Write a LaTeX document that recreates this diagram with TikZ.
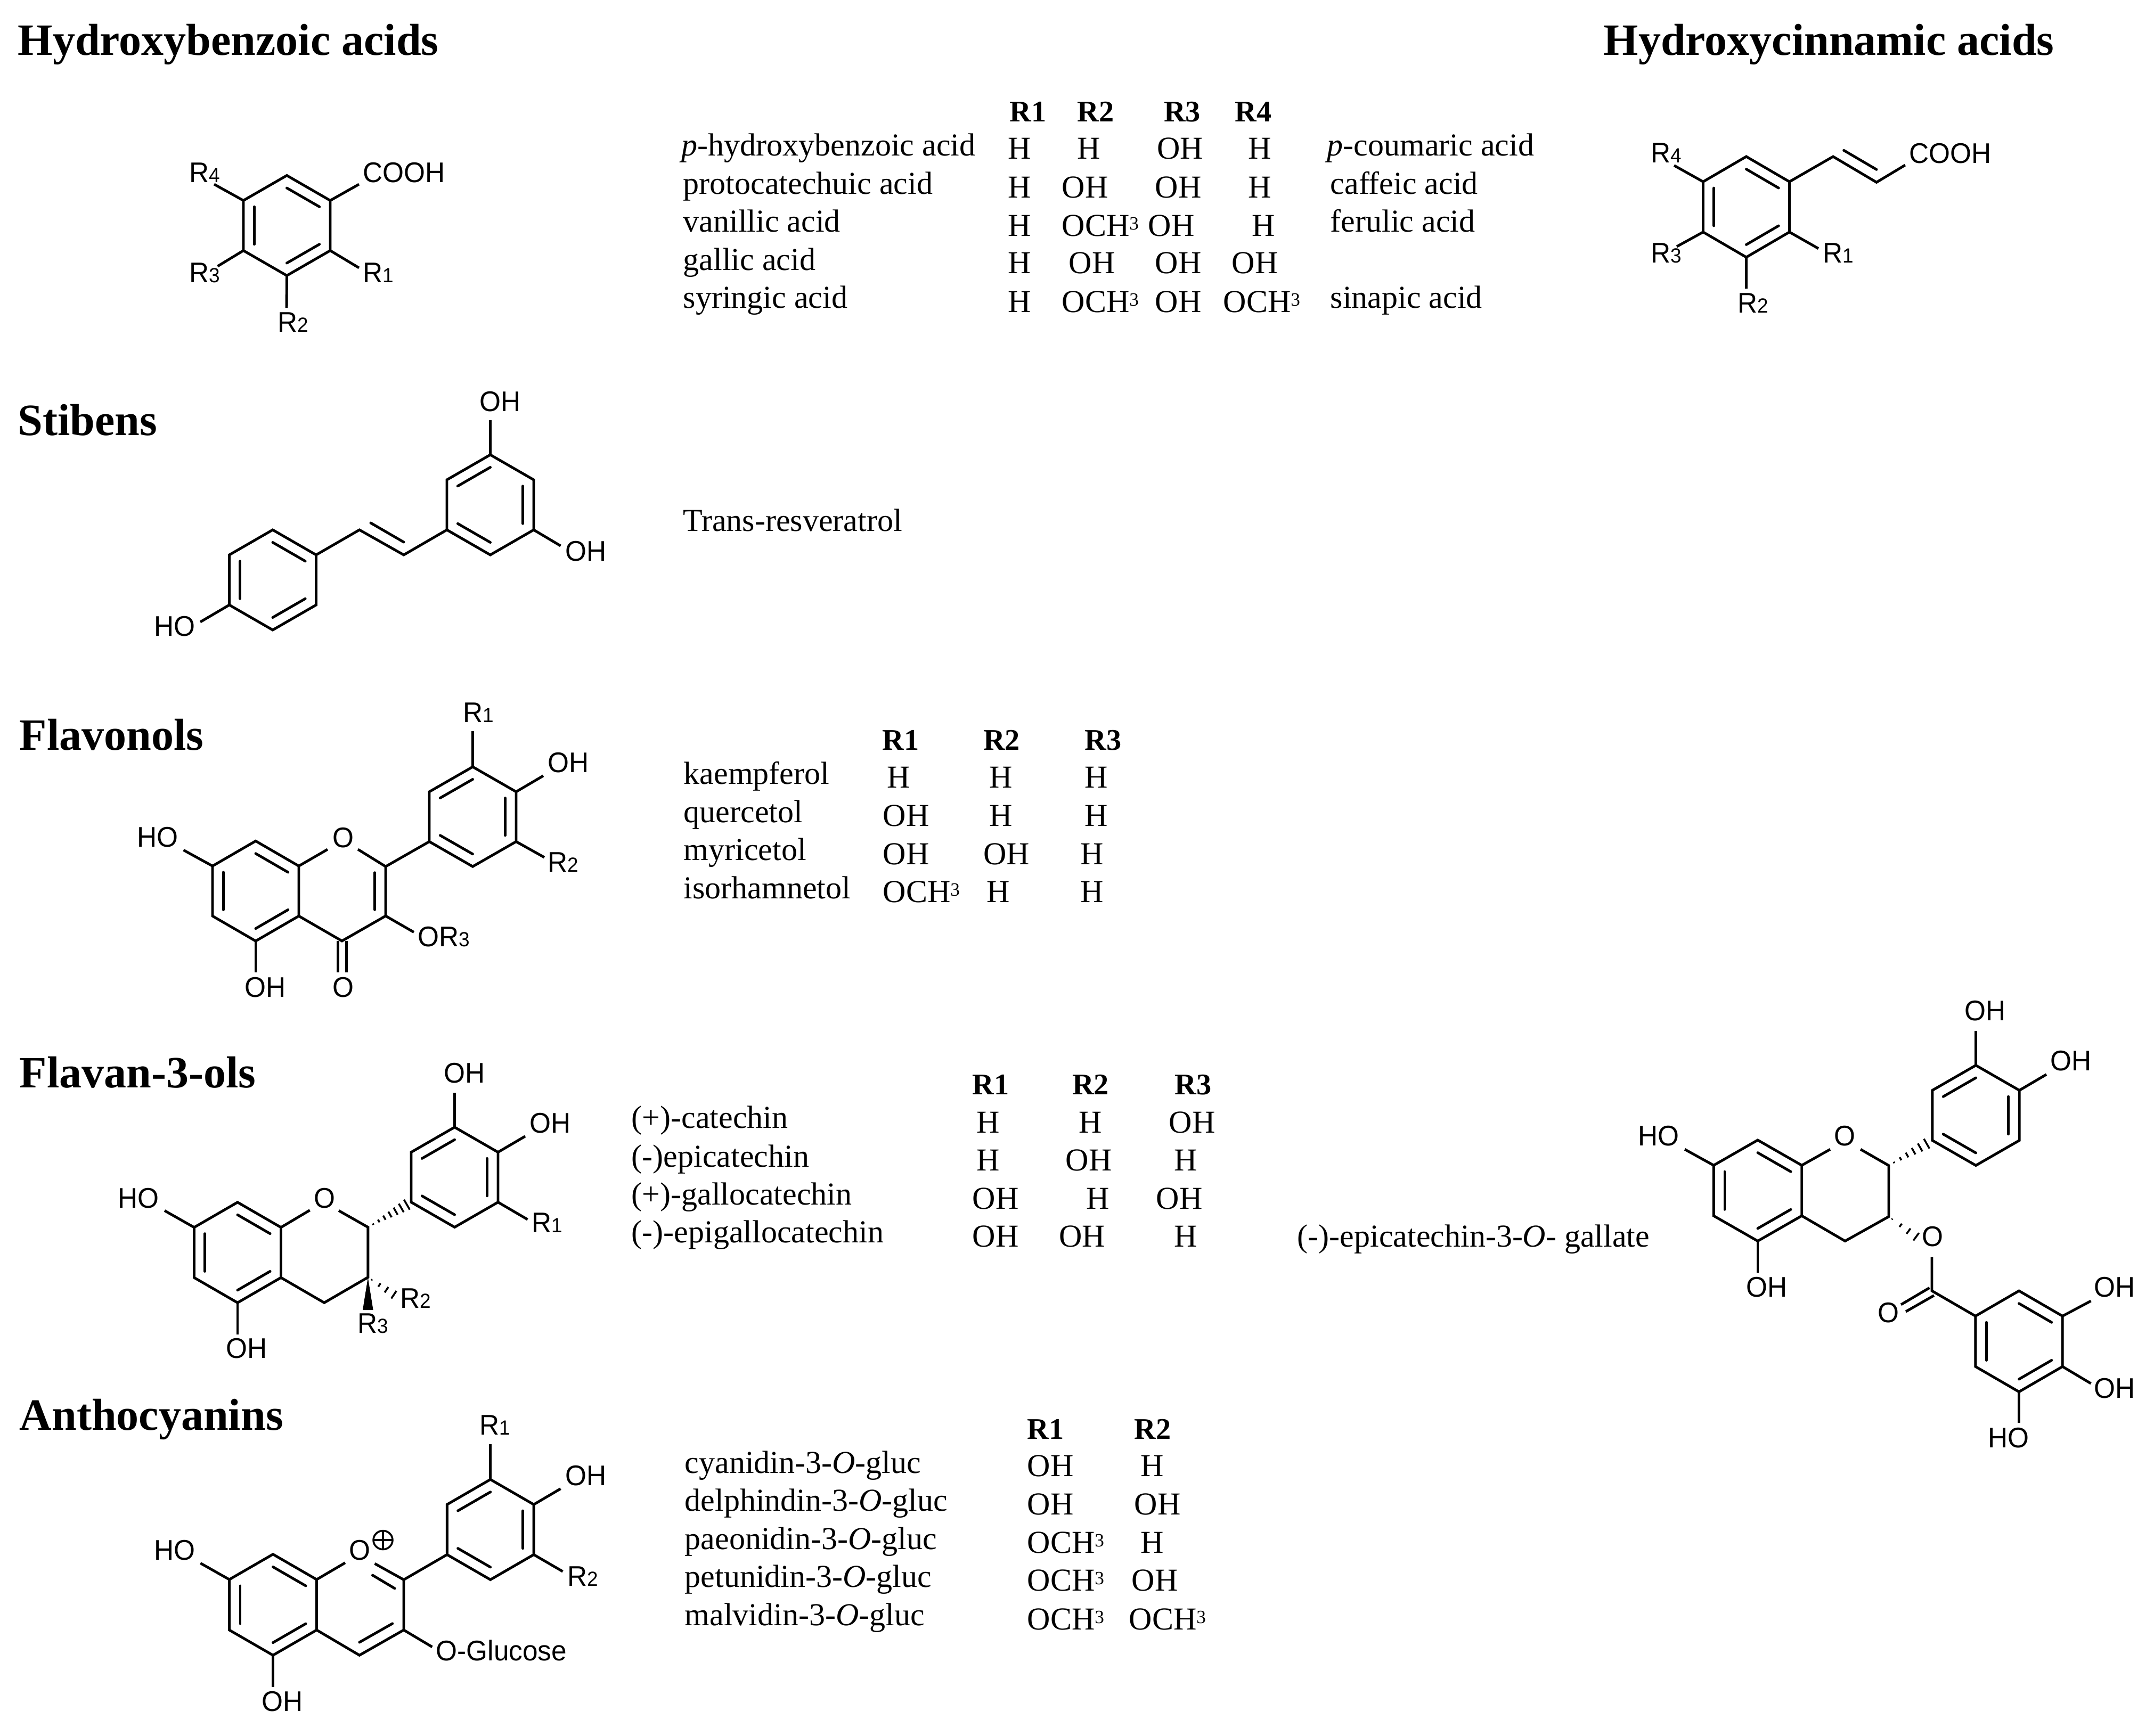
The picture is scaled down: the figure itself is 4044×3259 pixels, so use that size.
\documentclass[tikz,border=0pt]{standalone}
\usepackage{fontspec}
\setmainfont{Liberation Serif}
\setsansfont{Liberation Sans}
\usetikzlibrary{calc}
\newcommand{\rn}[1]{R{\fontsize{10.5}{12}\selectfont #1}}
\newcommand{\och}{OCH\raisebox{0.2em}{\fontsize{10}{10}\selectfont 3}}
\newcommand{\ringat}[5]{
\coordinate (#1m) at (#2,#3);
\coordinate (#1a) at (#2,#3-#5);
\coordinate (#1b) at (#2+#4,#3-#5/2);
\coordinate (#1c) at (#2+#4,#3+#5/2);
\coordinate (#1d) at (#2,#3+#5);
\coordinate (#1e) at (#2-#4,#3+#5/2);
\coordinate (#1f) at (#2-#4,#3-#5/2);
\draw [bond] (#1a) -- (#1b) -- (#1c) -- (#1d) -- (#1e) -- (#1f) -- cycle;
}
\newcommand{\dbl}[3]{\draw [inner] ($(#1)!0.25!(#3)$) -- ($(#2)!0.25!(#3)$);}
\newcommand{\hashbond}[4]{\foreach \t in {#3} {\draw [hash] ($(#1)!\t!(#2)!{\t*#4*0.01cm}!90:(#2)$) -- ($(#1)!\t!(#2)!{\t*#4*0.01cm}!-90:(#2)$);}}
\tikzset{
bond/.style={line width=1.4pt, line join=miter},
inner/.style={line width=1.4pt, line cap=round},
hash/.style={line width=1pt},
lbl/.style={font=\fontsize{14.6}{17}\selectfont\sffamily, inner sep=0pt, anchor=base west, yscale=1.04, transform shape},
txt/.style={font=\fontsize{17.07}{20}\selectfont, inner sep=0pt, anchor=base west},
hdr/.style={font=\fontsize{16}{20}\selectfont\bfseries, inner sep=0pt, anchor=base west},
head/.style={font=\fontsize{23.9}{28}\selectfont\bfseries, inner sep=0pt, anchor=base west}
}
\begin{document}
\begin{tikzpicture}[x=0.01cm,y=-0.01cm]
\useasboundingbox (0,0) rectangle (4044,3259);

\node [head] (hbtitle) at (33,103) {Hydroxybenzoic acids};
\node [head] (hctitle) at (3010,103) {Hydroxycinnamic acids};
\node [head] (sttitle) at (33,817) {Stibens};
\node [head] (fltitle) at (36,1408) {Flavonols};
\node [head] (fatitle) at (36,2042) {Flavan-3-ols};
\node [head] (antitle) at (36,2685) {Anthocyanins};

\ringat{hb}{538.5}{423.5}{81.5}{94}
\dbl{hba}{hbb}{hbm}
\dbl{hbc}{hbd}{hbm}
\dbl{hbe}{hbf}{hbm}
\draw [bond] (hbf) -- (402,346) coordinate (hbr4);
\draw [bond] (hbb) -- (674,346) coordinate (hbacid);
\draw [bond] (hbc) -- (674,503) coordinate (hbr1);
\draw [bond] (hbe) -- (408.5,500) coordinate (hbr3);
\draw [bond] (hbd) -- (538,578) coordinate (hbr2);
\node [lbl] (hbR4) at (355,342) {\rn{4}};
\node [lbl] (hbCOOH) at (681,342) {COOH};
\node [lbl] (hbR1) at (681,530) {\rn{1}};
\node [lbl] (hbR3) at (355,530) {\rn{3}};
\node [lbl] (hbR2) at (521,623) {\rn{2}};

\ringat{hc}{3278.5}{388.5}{81}{94.5}
\dbl{hca}{hcb}{hcm}
\dbl{hcc}{hcd}{hcm}
\dbl{hce}{hcf}{hcm}
\coordinate (hcv1) at (3441.5,294);
\coordinate (hcv2) at (3523,342.3);
\draw [bond] (hcb) -- (hcv1) -- (hcv2) -- (3576.8,310) coordinate (hcacid);
\draw [inner] (3461.6,282.3) coordinate (hcd1) -- (3523,318.3) coordinate (hcd2);
\draw [bond] (hcf) -- (3143,310.7) coordinate (hcr4);
\draw [bond] (hce) -- (3148,463) coordinate (hcr3);
\draw [bond] (hcc) -- (3414,466.7) coordinate (hcr1);
\draw [bond] (hcd) -- (3278.5,541.7) coordinate (hcr2);
\node [lbl] (hcCOOH) at (3583.5,306) {COOH};
\node [lbl] (hcR4) at (3099,305) {\rn{4}};
\node [lbl] (hcR3) at (3099,493) {\rn{3}};
\node [lbl] (hcR1) at (3421.4,493) {\rn{1}};
\node [lbl] (hcR2) at (3262,587.7) {\rn{2}};

\node [hdr] (hbh1) at (1895,228) {R1};
\node [hdr] (hbh2) at (2022,228) {R2};
\node [hdr] (hbh3) at (2184.5,228) {R3};
\node [hdr] (hbh4) at (2318,228) {R4};
\node [txt] (hbn1) at (1279,292) {\textit{p}-hydroxybenzoic acid};
\node [txt] (hbn2) at (1282,364) {protocatechuic acid};
\node [txt] (hbn3) at (1282,435) {vanillic acid};
\node [txt] (hbn4) at (1282,507) {gallic acid};
\node [txt] (hbn5) at (1282,578) {syringic acid};
\node [txt] (hb11) at (1892,298) {H};
\node [txt] (hb12) at (2022,298) {H};
\node [txt] (hb13) at (2171.5,298) {OH};
\node [txt] (hb14) at (2343,298) {H};
\node [txt] (hb21) at (1892,371) {H};
\node [txt] (hb22) at (1993,371) {OH};
\node [txt] (hb23) at (2168,371) {OH};
\node [txt] (hb24) at (2343,371) {H};
\node [txt] (hb31) at (1892,443) {H};
\node [txt] (hb32) at (1993,443) {\och};
\node [txt] (hb33) at (2155,443) {OH};
\node [txt] (hb34) at (2350,443) {H};
\node [txt] (hb41) at (1892,513) {H};
\node [txt] (hb42) at (2006,513) {OH};
\node [txt] (hb43) at (2168,513) {OH};
\node [txt] (hb44) at (2312,513) {OH};
\node [txt] (hb51) at (1892,586) {H};
\node [txt] (hb52) at (1993,586) {\och};
\node [txt] (hb53) at (2168,586) {OH};
\node [txt] (hb54) at (2296,586) {\och};
\node [txt] (hcn1) at (2491,292) {\textit{p}-coumaric acid};
\node [txt] (hcn2) at (2497,364) {caffeic acid};
\node [txt] (hcn3) at (2497,435) {ferulic acid};
\node [txt] (hcn5) at (2497,578) {sinapic acid};

\ringat{sta}{920.5}{948}{81.5}{94}
\ringat{stb}{512}{1089}{81.5}{94}
\dbl{staa}{staf}{stam}
\dbl{stab}{stac}{stam}
\dbl{stad}{stae}{stam}
\dbl{stba}{stbb}{stbm}
\dbl{stbe}{stbf}{stbm}
\dbl{stbc}{stbd}{stbm}
\coordinate (stv1) at (758,1042);
\coordinate (stv2) at (674.8,995);
\draw [bond] (stae) -- (stv1) -- (stv2) -- (stbb);
\draw [inner] (696,982) coordinate (std1) -- (758,1018) coordinate (std2);
\draw [bond] (staa) -- (920.5,789) coordinate (stoh1);
\draw [bond] (stac) -- (1052.5,1025) coordinate (stoh2);
\draw [bond] (stbe) -- (376,1168) coordinate (stoh3);
\node [lbl] (stOH1) at (900,772) {OH};
\node [lbl] (stOH2) at (1060.6,1053) {OH};
\node [lbl] (stHO) at (288.5,1194) {HO};
\node [txt] (stn) at (1282,997) {Trans-resveratrol};

\ringat{flb}{480}{1673.2}{81}{93.9}
\ringat{flr}{887.5}{1533.6}{81.5}{93.6}
\dbl{flba}{flbb}{flbm}
\dbl{flbe}{flbf}{flbm}
\dbl{flbc}{flbd}{flbm}
\dbl{flra}{flrf}{flrm}
\dbl{flrb}{flrc}{flrm}
\dbl{flrd}{flre}{flrm}
\coordinate (flc2) at (724,1627.2);
\coordinate (flc3) at (724,1720);
\coordinate (flc4) at (642,1767);
\coordinate (flpm) at (643,1673.2);
\draw [bond] (flbb) -- (615,1595) coordinate (flo1);
\draw [bond] (672,1595) coordinate (flo2) -- (flc2) -- (flc3) -- (flc4) -- (flbc);
\dbl{flc2}{flc3}{flpm}
\draw [bond] (flc2) -- (flre);
\draw [bond] (634.5,1767) coordinate (flk1) -- (634.5,1825.7) coordinate (flk2);
\draw [bond] (650.5,1767) coordinate (flk3) -- (650.5,1825.7) coordinate (flk4);
\draw [bond] (flbd) -- (480,1825.7) coordinate (floh1);
\draw [bond] (flbf) -- (344.5,1596.3) coordinate (floh2);
\draw [bond] (flc3) -- (777,1750.5) coordinate (flor);
\draw [bond] (flra) -- (887.5,1373) coordinate (flr1);
\draw [bond] (flrb) -- (1020,1456.8) coordinate (floh3);
\draw [bond] (flrc) -- (1022,1610) coordinate (flr2);
\node [lbl] (flO) at (623.6,1591.2) {O};
\node [lbl] (flO2) at (623.6,1872) {O};
\node [lbl] (flOH1) at (459,1872) {OH};
\node [lbl] (flHO) at (257,1590.4) {HO};
\node [lbl] (flOR) at (784,1777.4) {O\rn{3}};
\node [lbl] (flR1) at (869,1356.3) {\rn{1}};
\node [lbl] (flOH3) at (1028,1450) {OH};
\node [lbl] (flR2) at (1028,1637) {\rn{2}};

\node [hdr] (flh1) at (1656,1408) {R1};
\node [hdr] (flh2) at (1845.5,1408) {R2};
\node [hdr] (flh3) at (2036,1408) {R3};
\node [txt] (fln1) at (1283,1472) {kaempferol};
\node [txt] (fln2) at (1283,1544) {quercetol};
\node [txt] (fln3) at (1283,1615) {myricetol};
\node [txt] (fln4) at (1283,1687) {isorhamnetol};
\node [txt] (fl11) at (1664.7,1479) {H};
\node [txt] (fl12) at (1857,1479) {H};
\node [txt] (fl13) at (2036,1479) {H};
\node [txt] (fl21) at (1657,1551) {OH};
\node [txt] (fl22) at (1857,1551) {H};
\node [txt] (fl23) at (2036,1551) {H};
\node [txt] (fl31) at (1657,1623) {OH};
\node [txt] (fl32) at (1845.5,1623) {OH};
\node [txt] (fl33) at (2027.5,1623) {H};
\node [txt] (fl41) at (1657,1694) {\och};
\node [txt] (fl42) at (1852,1694) {H};
\node [txt] (fl43) at (2027.5,1694) {H};

\ringat{fab}{446}{2352}{81.5}{94.3}
\ringat{far}{853.5}{2210.6}{81.5}{93.9}
\dbl{faba}{fabb}{fabm}
\dbl{fabe}{fabf}{fabm}
\dbl{fabc}{fabd}{fabm}
\dbl{fara}{farf}{farm}
\dbl{farb}{farc}{farm}
\dbl{fard}{fare}{farm}
\coordinate (fac2) at (690.8,2304.5);
\coordinate (fac3) at (690.8,2398.6);
\coordinate (fac4) at (608.7,2446.3);
\draw [bond] (fabb) -- (581.7,2272.6) coordinate (fao1);
\draw [bond] (636,2273.4) coordinate (fao2) -- (fac2) -- (fac3) -- (fac4) -- (fabc);
\hashbond{fac2}{fare}{0.12,0.25,0.38,0.51,0.64,0.77,0.9}{12}
\coordinate (far2) at (742,2433);
\hashbond{fac3}{far2}{0.14,0.42,0.68,0.95}{9}
\coordinate (far3a) at (681,2460);
\coordinate (far3b) at (700.6,2460);
\fill (fac3) -- (far3a) -- (far3b) -- cycle;
\draw [bond] (fara) -- (853.5,2051.6) coordinate (faoh1);
\draw [bond] (farb) -- (986,2133.7) coordinate (faoh2);
\draw [bond] (farc) -- (990.5,2290) coordinate (far1);
\draw [bond] (fabf) -- (309,2273.4) coordinate (faoh3);
\draw [bond] (fabd) -- (446,2505.6) coordinate (faoh4);
\node [lbl] (faO) at (588.6,2268) {O};
\node [lbl] (faR3) at (670.7,2503.5) {\rn{3}};
\node [lbl] (faR2) at (751,2456.6) {\rn{2}};
\node [lbl] (faOH1) at (833,2033) {OH};
\node [lbl] (faOH2) at (994,2127) {OH};
\node [lbl] (faR1) at (998,2314.8) {\rn{1}};
\node [lbl] (faHO) at (221,2268) {HO};
\node [lbl] (faOH4) at (424,2550.3) {OH};

\node [hdr] (fah1) at (1825,2055) {R1};
\node [hdr] (fah2) at (2012.5,2055) {R2};
\node [hdr] (fah3) at (2205,2055) {R3};
\node [txt] (fan1) at (1185,2118) {(+)-catechin};
\node [txt] (fan2) at (1185,2191) {(-)epicatechin};
\node [txt] (fan3) at (1185,2262) {(+)-gallocatechin};
\node [txt] (fan4) at (1185,2333) {(-)-epigallocatechin};
\node [txt] (fa11) at (1832.5,2127) {H};
\node [txt] (fa12) at (2025,2127) {H};
\node [txt] (fa13) at (2194,2127) {OH};
\node [txt] (fa21) at (1832.5,2198) {H};
\node [txt] (fa22) at (2000,2198) {OH};
\node [txt] (fa23) at (2204,2198) {H};
\node [txt] (fa31) at (1825,2270) {OH};
\node [txt] (fa32) at (2039,2270) {H};
\node [txt] (fa33) at (2170,2270) {OH};
\node [txt] (fa41) at (1825,2341) {OH};
\node [txt] (fa42) at (1987.5,2341) {OH};
\node [txt] (fa43) at (2204,2341) {H};
\node [txt] (egn) at (2435,2341) {(-)-epicatechin-3-\textit{O}- gallate};

\ringat{egb}{3300}{2235.7}{82.7}{94.8}
\ringat{egr}{3709.5}{2094.5}{81.7}{94}
\ringat{egg}{3790.5}{2518.8}{81.7}{94.8}
\dbl{egba}{egbb}{egbm}
\dbl{egbe}{egbf}{egbm}
\dbl{egbc}{egbd}{egbm}
\dbl{egra}{egrf}{egrm}
\dbl{egrb}{egrc}{egrm}
\dbl{egrd}{egre}{egrm}
\dbl{egga}{eggb}{eggm}
\dbl{egge}{eggf}{eggm}
\dbl{eggc}{eggd}{eggm}
\coordinate (egc2) at (3546,2188.7);
\coordinate (egc3) at (3546,2284.6);
\coordinate (egc4) at (3464,2330.5);
\coordinate (egco) at (3627,2424);
\coordinate (ego3) at (3599,2323.6);
\draw [bond] (egbb) -- (3436,2158.3) coordinate (ego1);
\draw [bond] (3493,2158.3) coordinate (ego2) -- (egc2) -- (egc3) -- (egc4) -- (egbc);
\hashbond{egc2}{egre}{0.12,0.27,0.42,0.57,0.72,0.87}{12}
\hashbond{egc3}{ego3}{0.12,0.42,0.7,0.97}{9}
\draw [bond] (3627,2360.9) coordinate (ego4) -- (egco) -- (eggf);
\draw [bond] (3622.5,2418.3) coordinate (egk1) -- (3569,2449.9) coordinate (egk2);
\draw [bond] (3631,2432.7) coordinate (egk3) -- (3578,2463) coordinate (egk4);
\draw [bond] (egra) -- (3709.5,1936) coordinate (egoh1);
\draw [bond] (egrb) -- (3842,2017.6) coordinate (egoh2);
\draw [bond] (egbf) -- (3163,2158.3) coordinate (egoh3);
\draw [bond] (egbd) -- (3300,2389.6) coordinate (egoh4);
\draw [bond] (eggb) -- (3925.5,2443) coordinate (egoh5);
\draw [bond] (eggc) -- (3925.5,2598) coordinate (egoh6);
\draw [bond] (eggd) -- (3790.5,2672) coordinate (egoh7);
\node [lbl] (egO1) at (3443,2151.4) {O};
\node [lbl] (egO3) at (3608,2340.8) {O};
\node [lbl] (egO4) at (3525,2483.2) {O};
\node [lbl] (egOH1) at (3688,1916) {OH};
\node [lbl] (egOH2) at (3849,2010.7) {OH};
\node [lbl] (egHO1) at (3074.6,2151.4) {HO};
\node [lbl] (egOH4) at (3278,2435.5) {OH};
\node [lbl] (egOH5) at (3931,2435.5) {OH};
\node [lbl] (egOH6) at (3931,2625) {OH};
\node [lbl] (egHO7) at (3732,2718) {HO};

\ringat{anb}{512.5}{3013.5}{82}{94.8}
\ringat{anr}{920.7}{2872.3}{81.4}{94.1}
\dbl{anba}{anbb}{anbm}
\dbl{anbe}{anbf}{anbm}
\dbl{anbc}{anbd}{anbm}
\dbl{anra}{anrf}{anrm}
\dbl{anrb}{anrc}{anrm}
\dbl{anrd}{anre}{anrm}
\coordinate (anc2) at (758,2966.5);
\coordinate (anc3) at (758,3060.9);
\coordinate (anc4) at (674.8,3108.3);
\coordinate (anp) at (719,2892);
\draw [bond] (anbb) -- (648,2934.7) coordinate (ano1);
\draw [bond] (703.5,2936.2) coordinate (ano2) -- (anc2) -- (anc3) -- (anc4) -- (anbc);
\draw [inner] (699.5,2958) coordinate (and1) -- (741,2982.8) coordinate (and2);
\draw [inner] (736.8,3048.8) coordinate (and3) -- (674.8,3084) coordinate (and4);
\draw [bond] (anc2) -- (anre);
\draw [hash] (anp) ellipse [x radius=18, y radius=17.5];
\draw [hash] (anp) +(-18,0) -- +(18,0) (anp) +(0,-17.5) -- +(0,17.5);
\draw [bond] (anbf) -- (376.3,2935.4) coordinate (anoh1);
\draw [bond] (anbd) -- (512.5,3167.7) coordinate (anoh2);
\draw [bond] (anc3) -- (811.4,3092.7) coordinate (anog);
\draw [bond] (anra) -- (920.7,2712) coordinate (anr1);
\draw [bond] (anrb) -- (1052.5,2795.6) coordinate (anoh3);
\draw [bond] (anrc) -- (1056.5,2951) coordinate (anr2);
\node [lbl] (anO) at (655,2929.6) {O};
\node [lbl] (anHO) at (288.5,2929.6) {HO};
\node [lbl] (anOH2) at (491,3213.9) {OH};
\node [lbl] (anGl) at (818,3118.7) {O-Glucose};
\node [lbl] (anR1) at (900,2694.7) {\rn{1}};
\node [lbl] (anOH3) at (1060.6,2789) {OH};
\node [lbl] (anR2) at (1065,2978.2) {\rn{2}};

\node [hdr] (anh1) at (1928,2702) {R1};
\node [hdr] (anh2) at (2128.7,2702) {R2};
\node [txt] (ann1) at (1285,2766) {cyanidin-3-\textit{O}-gluc};
\node [txt] (ann2) at (1285,2837.7) {delphindin-3-\textit{O}-gluc};
\node [txt] (ann3) at (1285,2909) {paeonidin-3-\textit{O}-gluc};
\node [txt] (ann4) at (1285,2980.7) {petunidin-3-\textit{O}-gluc};
\node [txt] (ann5) at (1285,3052) {malvidin-3-\textit{O}-gluc};
\node [txt] (an11) at (1928,2772.7) {OH};
\node [txt] (an12) at (2141,2772.7) {H};
\node [txt] (an21) at (1928,2844) {OH};
\node [txt] (an22) at (2129,2844) {OH};
\node [txt] (an31) at (1928,2916) {\och};
\node [txt] (an32) at (2141,2916) {H};
\node [txt] (an41) at (1928,2987.7) {\och};
\node [txt] (an42) at (2124,2987.7) {OH};
\node [txt] (an51) at (1928,3060) {\och};
\node [txt] (an52) at (2119,3060) {\och};

\end{tikzpicture}
\end{document}
